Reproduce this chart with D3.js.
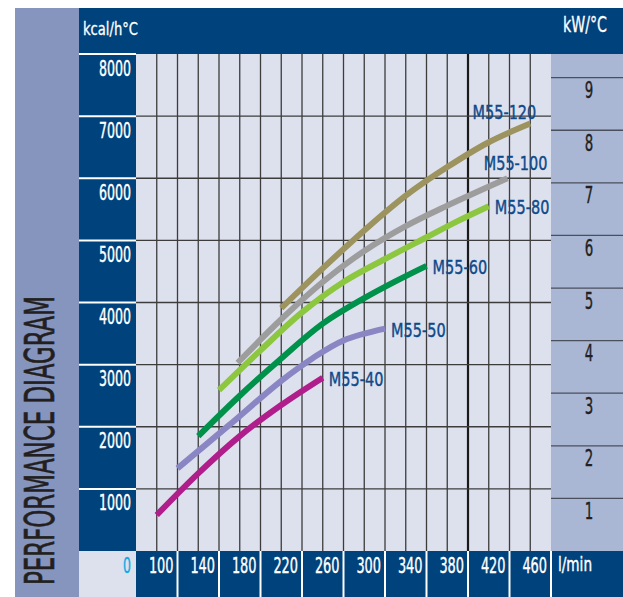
<!DOCTYPE html>
<html>
<head>
<meta charset="utf-8">
<script src="https://cdn.jsdelivr.net/npm/d3@7"></script>
<style>
  html, body { margin: 0; padding: 0; background: #ffffff; }
  svg { display: block; }
  text { font-family: "DejaVu Sans Condensed", "Liberation Sans Narrow", "Liberation Sans", sans-serif; }
</style>
</head>
<body>
<svg id="chart" width="623" height="597"></svg>
<script>
// ---------------- data ----------------
const seriesNames = ["M55-40", "M55-50", "M55-60", "M55-80", "M55-100", "M55-120"];
const m40Flow  = [80, 120, 160, 200, 240];
const m40Heat  = [580, 1250, 1850, 2350, 2790];
const m50Flow  = [100, 150, 200, 230, 260, 300];
const m50Heat  = [1330, 2030, 2740, 3100, 3390, 3580];
const m60Flow  = [120, 160, 200, 240, 280, 310, 340];
const m60Heat  = [1850, 2500, 3100, 3660, 4070, 4340, 4590];
const m80Flow  = [140, 180, 220, 260, 300, 340, 370, 400];
const m80Heat  = [2590, 3230, 3840, 4330, 4700, 5050, 5310, 5550];
const m100Flow = [158, 200, 240, 280, 320, 360, 390, 418];
const m100Heat = [3030, 3730, 4330, 4830, 5230, 5560, 5790, 6000];
const m120Flow = [200, 240, 280, 320, 360, 400, 440];
const m120Heat = [3910, 4550, 5160, 5720, 6180, 6580, 6880];

const xTickLabels  = [100, 140, 180, 220, 260, 300, 340, 380, 420, 460];
const xGridValues  = [80, 100, 120, 140, 160, 180, 200, 220, 240, 260, 280, 300, 320, 340, 360, 380, 400, 420, 440];
const yTickLabels  = [1000, 2000, 3000, 4000, 5000, 6000, 7000, 8000];
const kwTickLabels = [1, 2, 3, 4, 5, 6, 7, 8, 9];
const yUnit = "kcal/h°C";
const kwUnit = "kW/°C";
const xUnit = "l/min";
const zeroLabel = "0";
const sideTitle = "PERFORMANCE DIAGRAM";

const seriesFlows = [m40Flow, m50Flow, m60Flow, m80Flow, m100Flow, m120Flow];
const seriesHeats = [m40Heat, m50Heat, m60Heat, m80Heat, m100Heat, m120Heat];
const seriesColors = ["#b01e8c", "#8a86c4", "#00914a", "#8dc63f", "#9d9d9d", "#9c935f"];

// ---------------- layout ----------------
const NAVY = "#00427b";
const PLOT_BG = "#dde1ee";
const L = 136, R = 551, T = 54, B = 551;

const svg = d3.select("#chart");
const x = d3.scaleLinear().domain([60, 460]).range([L, R]);
const y = d3.scaleLinear().domain([0, 8000]).range([B, T]);
const kw = d3.scaleLinear().domain([0, 9.45]).range([B, T]);

// background blocks
svg.append("rect").attr("x", 15).attr("y", 8).attr("width", 64).attr("height", 589).attr("fill", "#8595bd");
svg.append("rect").attr("x", 79).attr("y", 8).attr("width", 623 - 79).attr("height", T - 8).attr("fill", NAVY);
svg.append("rect").attr("x", 79).attr("y", T).attr("width", L - 79).attr("height", B - T).attr("fill", NAVY);
svg.append("rect").attr("x", 79).attr("y", B).attr("width", L - 79).attr("height", 597 - B).attr("fill", PLOT_BG);
svg.append("rect").attr("x", L).attr("y", B).attr("width", 623 - L).attr("height", 597 - B).attr("fill", NAVY);
svg.append("rect").attr("x", L).attr("y", T).attr("width", R - L).attr("height", B - T).attr("fill", PLOT_BG);
svg.append("rect").attr("x", R).attr("y", T).attr("width", 623 - R).attr("height", B - T).attr("fill", "#a9b7d4");

// side title
svg.append("text")
  .attr("transform", `translate(54,585) rotate(-90)`)
  .attr("font-size", 40)
  .attr("fill", "#231f20")
  .attr("stroke", "#231f20").attr("stroke-width", 0.6)
  .attr("textLength", 289)
  .attr("lengthAdjust", "spacingAndGlyphs")
  .text(sideTitle);

// grid lines in plot
svg.append("g").selectAll("line.v").data(xGridValues).join("line")
  .attr("x1", d => x(d)).attr("x2", d => x(d))
  .attr("y1", T).attr("y2", B)
  .attr("stroke", d => d === 380 ? "#1a1a1a" : "#3c3c3c")
  .attr("stroke-width", d => d === 380 ? 2.2 : 1.3);

svg.append("g").selectAll("line.h").data(yTickLabels.filter(d => d < 8000)).join("line")
  .attr("x1", L).attr("x2", R)
  .attr("y1", d => y(d)).attr("y2", d => y(d))
  .attr("stroke", "#3c3c3c").attr("stroke-width", 1.3);

// left axis: white separators + labels
svg.append("g").selectAll("line").data(yTickLabels).join("line")
  .attr("x1", 79).attr("x2", L)
  .attr("y1", d => y(d)).attr("y2", d => y(d))
  .attr("stroke", "#ffffff").attr("stroke-width", 2);

svg.append("g").selectAll("text").data(yTickLabels).join("text")
  .attr("x", 131).attr("y", d => y(d) + 21.5)
  .attr("text-anchor", "end")
  .attr("font-size", 20.5)
  .attr("fill", "#ffffff")
  .attr("stroke", "#ffffff").attr("stroke-width", 0.4)
  .attr("textLength", d => String(d).length * 8)
  .attr("lengthAdjust", "spacingAndGlyphs")
  .text(d => d);

// bottom axis: separators + labels
svg.append("g").selectAll("line").data(xTickLabels).join("line")
  .attr("x1", d => x(d)).attr("x2", d => x(d))
  .attr("y1", B).attr("y2", 597)
  .attr("stroke", "#ffffff").attr("stroke-width", 2);

svg.append("g").selectAll("text").data(xTickLabels).join("text")
  .attr("x", d => x(d) - 4).attr("y", 573)
  .attr("text-anchor", "end")
  .attr("font-size", 22)
  .attr("fill", "#ffffff")
  .attr("stroke", "#ffffff").attr("stroke-width", 0.4)
  .attr("textLength", d => String(d).length * 8.2)
  .attr("lengthAdjust", "spacingAndGlyphs")
  .text(d => d);

svg.append("text")
  .attr("x", 131).attr("y", 573)
  .attr("text-anchor", "end")
  .attr("font-size", 22)
  .attr("fill", "#14a9e1")
  .attr("stroke", "#14a9e1").attr("stroke-width", 0.4)
  .attr("textLength", 8)
  .attr("lengthAdjust", "spacingAndGlyphs")
  .text(zeroLabel);

svg.append("text")
  .attr("x", 558).attr("y", 571)
  .attr("font-size", 20)
  .attr("fill", "#ffffff")
  .attr("stroke", "#ffffff").attr("stroke-width", 0.4)
  .attr("textLength", 34)
  .attr("lengthAdjust", "spacingAndGlyphs")
  .text(xUnit);

// right axis (kW)
svg.append("g").selectAll("line").data(kwTickLabels).join("line")
  .attr("x1", R).attr("x2", 623)
  .attr("y1", d => kw(d)).attr("y2", d => kw(d))
  .attr("stroke", "#4a4f5c").attr("stroke-width", 1.3);

svg.append("g").selectAll("text").data(kwTickLabels).join("text")
  .attr("x", 589).attr("y", d => kw(d) + 20.5)
  .attr("text-anchor", "middle")
  .attr("font-size", 23)
  .attr("fill", "#231f20")
  .attr("stroke", "#231f20").attr("stroke-width", 0.4)
  .attr("textLength", 8.5)
  .attr("lengthAdjust", "spacingAndGlyphs")
  .text(d => d);

// unit headers
svg.append("text")
  .attr("x", 83).attr("y", 35)
  .attr("font-size", 17)
  .attr("fill", "#ffffff")
  .attr("stroke", "#ffffff").attr("stroke-width", 0.3)
  .attr("textLength", 55)
  .attr("lengthAdjust", "spacingAndGlyphs")
  .text(yUnit);

svg.append("text")
  .attr("x", 563).attr("y", 32)
  .attr("font-size", 21)
  .attr("fill", "#ffffff")
  .attr("stroke", "#ffffff").attr("stroke-width", 0.3)
  .attr("textLength", 44)
  .attr("lengthAdjust", "spacingAndGlyphs")
  .text(kwUnit);

// curves
const line = d3.line().x(d => x(d[0])).y(d => y(d[1])).curve(d3.curveCatmullRom.alpha(0.5));
const series = seriesNames.map((name, i) => ({
  name,
  color: seriesColors[i],
  pts: seriesFlows[i].map((f, j) => [f, seriesHeats[i][j]])
}));

svg.append("g").selectAll("path").data(series).join("path")
  .attr("d", d => line(d.pts))
  .attr("fill", "none")
  .attr("stroke", d => d.color)
  .attr("stroke-width", 6)
  .attr("stroke-linecap", "butt");

// series labels next to curve ends
svg.append("g").selectAll("text").data(series).join("text")
  .each(function(d, i) {
    const last = d.pts[d.pts.length - 1];
    const px = x(last[0]), py = y(last[1]);
    const t = d3.select(this);
    if (i < 4) {
      t.attr("x", px + 6).attr("y", py + 8).attr("text-anchor", "start");
    } else if (i === 4) {
      t.attr("x", px + 40).attr("y", py - 8).attr("text-anchor", "end");
    } else {
      t.attr("x", px + 6).attr("y", py - 5).attr("text-anchor", "end");
    }
  })
  .attr("font-size", 20)
  .attr("fill", "#0e4a8a")
  .attr("stroke", "#0e4a8a").attr("stroke-width", 0.4)
  .attr("textLength", d => d.name.length * 9.1)
  .attr("lengthAdjust", "spacingAndGlyphs")
  .text(d => d.name);
</script>
</body>
</html>
